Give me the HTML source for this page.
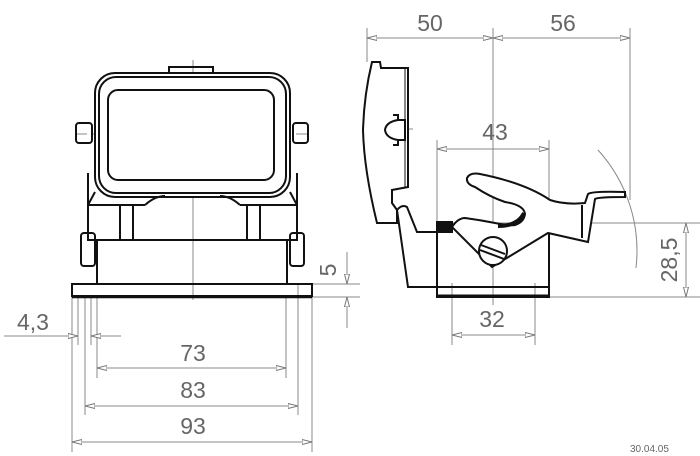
<!DOCTYPE html>
<html><head><meta charset="utf-8"><style>
html,body{margin:0;padding:0;background:#fff;}
svg{display:block}
text{font-family:"Liberation Sans",sans-serif;fill:#666;}
</style></head><body>
<svg width="700" height="456" viewBox="0 0 700 456" xmlns="http://www.w3.org/2000/svg">
<defs>
<marker id="a" viewBox="0 0 10 6" refX="10" refY="3" markerWidth="10" markerHeight="6" orient="auto-start-reverse" markerUnits="userSpaceOnUse"><path d="M0,0.5 L10,3 L0,5.5 Z" fill="#fff" stroke="#777" stroke-width="1"/></marker>
</defs>
<g stroke="#888" stroke-width="1" fill="none">
<line x1="193" y1="60" x2="193" y2="300"/>
<line x1="75" y1="134" x2="310" y2="134" stroke-dasharray="12,5"/>
<line x1="72" y1="297" x2="72" y2="452"/>
<line x1="78" y1="297" x2="78" y2="345"/>
<line x1="85" y1="297" x2="85" y2="415"/>
<line x1="91" y1="297" x2="91" y2="345"/>
<line x1="97" y1="297" x2="97" y2="378"/>
<line x1="286" y1="297" x2="286" y2="378"/>
<line x1="298" y1="284" x2="298" y2="415"/>
<line x1="312" y1="297" x2="312" y2="452"/>
<line x1="312" y1="284" x2="360" y2="284"/>
<line x1="312" y1="297" x2="360" y2="297"/>
<line x1="97" y1="368" x2="286" y2="368" marker-start="url(#a)" marker-end="url(#a)"/>
<line x1="85" y1="406" x2="298" y2="406" marker-start="url(#a)" marker-end="url(#a)"/>
<line x1="72" y1="442" x2="312" y2="442" marker-start="url(#a)" marker-end="url(#a)"/>
<line x1="4" y1="336" x2="78" y2="336" marker-end="url(#a)"/>
<line x1="121" y1="336" x2="91" y2="336" marker-end="url(#a)"/>
<line x1="347" y1="252" x2="347" y2="284" marker-end="url(#a)"/>
<line x1="347" y1="328" x2="347" y2="297" marker-end="url(#a)"/>
<line x1="367" y1="28" x2="367" y2="62"/>
<line x1="493" y1="28" x2="493" y2="305"/>
<line x1="630" y1="28" x2="630" y2="200"/>
<line x1="367" y1="38" x2="493" y2="38" marker-start="url(#a)" marker-end="url(#a)"/>
<line x1="493" y1="38" x2="630" y2="38" marker-start="url(#a)" marker-end="url(#a)"/>
<line x1="437" y1="140" x2="437" y2="222"/>
<line x1="549" y1="140" x2="549" y2="222"/>
<line x1="437" y1="149" x2="549" y2="149" marker-start="url(#a)" marker-end="url(#a)"/>
<line x1="452" y1="283" x2="452" y2="345"/>
<line x1="535" y1="283" x2="535" y2="345"/>
<line x1="452" y1="335" x2="535" y2="335" marker-start="url(#a)" marker-end="url(#a)"/>
<line x1="437" y1="223" x2="700" y2="223"/>
<line x1="549" y1="297" x2="700" y2="297"/>
<line x1="686" y1="223" x2="686" y2="297" marker-start="url(#a)" marker-end="url(#a)"/>
<line x1="362" y1="129" x2="413" y2="129"/>
<path d="M598,150 A150,150 0 0 1 636,268"/>
</g>
<g stroke="#111" stroke-width="2" fill="none">
<rect x="169" y="67" width="44" height="9"/>
<rect x="95" y="73" width="195" height="124" rx="20" fill="#fff"/>
<rect x="99" y="77" width="187" height="116" rx="17"/>
<rect x="108" y="90" width="166" height="90" rx="10"/>
<rect x="76" y="123" width="16" height="20" rx="3"/>
<rect x="293" y="123" width="15" height="20" rx="3"/>
<path d="M88,173 L88,240 L297,240 L297,173"/>
<path d="M95,192 L88,205 M290,192 L297,205"/>
<line x1="88" y1="205" x2="145" y2="205"/>
<line x1="240" y1="205" x2="297" y2="205"/>
<path d="M145,205 Q155,196 165,196 M240,205 Q230,196 220,196"/>
<line x1="120" y1="205" x2="120" y2="240"/>
<line x1="133" y1="205" x2="133" y2="240"/>
<line x1="247" y1="205" x2="247" y2="240"/>
<line x1="260" y1="205" x2="260" y2="240"/>
<path d="M97,240 L97,284 M287,240 L287,284"/>
<rect x="81" y="233" width="14" height="33" rx="3"/>
<rect x="290" y="233" width="14" height="33" rx="3"/>
<rect x="72" y="284" width="240" height="12"/>
<line x1="72" y1="297" x2="312" y2="297" stroke-width="2.5"/>
<!-- lid -->
<path d="M372,62 L380,62 L381,68 L408,68 L408,187 L392,190 L392,203 L397,210 L397,223 L377,223 Q364,170 363,130 Q364,95 372,62 Z" fill="#fff"/>
<path d="M405,68 L405,187" stroke-width="1"/>
<path d="M393,115 L398,115 L398,120 L405,120 L405,140 L398,140 L398,145 L393,145"/>
<path d="M398,120 Q386,122 385,130 Q386,138 398,140"/>
<!-- hinge/body -->
<path d="M397,210 Q402,204 407,207 L417,232 L437,232 L437,297 L549,297 L549,222"/>
<path d="M397,210 L408,287 L437,287"/>
<line x1="437" y1="287" x2="549" y2="287"/>
<line x1="437" y1="296" x2="549" y2="296" stroke-width="3"/>
<rect x="437" y="222" width="15" height="10" fill="#111"/>
<!-- lever -->
<path d="M467,178 Q470,172 480,174 Q525,183 550,200 Q565,205 585,203 L588,194 Q592,191 625,192 L625,197 Q598,197 595,199 L588,242 L548,233 L492,267 L452,227 Q458,218 465,218 Q480,220 495,223 Q510,226 515,225 Q524,222 525,214 Q524,205 505,202 Q490,197 475,187 Q466,184 467,178 Z" fill="#fff"/>
<path d="M498,226 Q518,226 524,213" stroke-width="4"/>
<circle cx="493" cy="251" r="14" fill="#fff"/>
<line x1="481" y1="245" x2="505" y2="254"/>
<line x1="480" y1="250" x2="504" y2="259"/>
<line x1="582" y1="205" x2="582" y2="238"/>
</g>
<g font-size="23">
<text x="193" y="361" text-anchor="middle">73</text>
<text x="193" y="398" text-anchor="middle">83</text>
<text x="193" y="434" text-anchor="middle">93</text>
<text x="33" y="330" text-anchor="middle">4,3</text>
<text x="430" y="31" text-anchor="middle">50</text>
<text x="563" y="31" text-anchor="middle">56</text>
<text x="495" y="140" text-anchor="middle">43</text>
<text x="492" y="327" text-anchor="middle">32</text>
<text transform="translate(336,270) rotate(-90)" text-anchor="middle">5</text>
<text transform="translate(677,260) rotate(-90)" text-anchor="middle">28,5</text>
</g>
<text x="630" y="452" font-size="10" fill="#222">30.04.05</text>
</svg>
</body></html>
